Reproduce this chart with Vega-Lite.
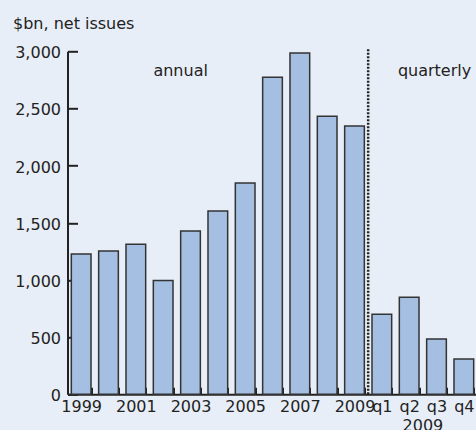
{
  "$schema": "https://vega.github.io/schema/vega-lite/v6.json",
  "width": 410,
  "height": 343,
  "autosize": "none",
  "padding": {"top": 51.3, "left": 67.5, "right": 0, "bottom": 35.7},
  "background": "#e8eef7",
  "config": {
    "view": {"stroke": null},
    "font": "DejaVu Sans",
    "axis": {"labelFont": "DejaVu Sans", "titleFont": "DejaVu Sans", "labelColor": "#222", "titleColor": "#222", "grid": false}
  },
  "datasets": {
    "issues": [
      {"period": "1999", "value": 1227},
      {"period": "2000", "value": 1254},
      {"period": "2001", "value": 1312},
      {"period": "2002", "value": 995},
      {"period": "2003", "value": 1429},
      {"period": "2004", "value": 1604},
      {"period": "2005", "value": 1848},
      {"period": "2006", "value": 2773},
      {"period": "2007", "value": 2986},
      {"period": "2008", "value": 2432},
      {"period": "2009", "value": 2347},
      {"period": "q1", "value": 700},
      {"period": "q2", "value": 849},
      {"period": "q3", "value": 484},
      {"period": "q4", "value": 309}
    ],
    "one": [{}]
  },
  "layer": [
    {
      "data": {"name": "issues"},
      "mark": {"type": "bar", "fill": "#a4bfe2", "stroke": "#333", "strokeWidth": 1.5},
      "encoding": {
        "x": {
          "field": "period", "type": "nominal", "sort": null,
          "scale": {"paddingInner": 0.28, "paddingOuter": 0.14},
          "axis": {
            "title": null,
            "labelAngle": 0,
            "labelFontSize": 16,
            "labelOverlap": false,
            "labelPadding": 11,
            "labelBaseline": "top",
            "labelExpr": "indexof(['1999','2001','2003','2005','2007','2009','q1','q2','q3','q4'], datum.label) >= 0 ? datum.label : ''",
            "tickBand": "extent",
            "tickSize": -7,
            "tickWidth": 2,
            "tickColor": "#222",
            "domainColor": "#222",
            "domainWidth": 2
          }
        },
        "y": {
          "field": "value", "type": "quantitative",
          "scale": {"domain": [0, 3000], "nice": false},
          "axis": {
            "values": [0, 500, 1000, 1500, 2000, 2500, 3000],
            "format": ",d",
            "labelFontSize": 16,
            "labelPadding": 17,
            "labelOffset": 1.5,
            "tickSize": -10,
            "tickWidth": 2,
            "tickColor": "#222",
            "domainColor": "#222",
            "domainWidth": 2,
            "title": "$bn, net issues",
            "titleAngle": 0,
            "titleAlign": "left",
            "titleBaseline": "alphabetic",
            "titleFontSize": 16,
            "titleFontWeight": "normal",
            "titleX": -55,
            "titleY": -23
          }
        }
      }
    },
    {
      "data": {"name": "one"},
      "mark": {"type": "rule", "stroke": "#222", "strokeWidth": 2.5, "strokeDash": [2, 1.5], "clip": false},
      "encoding": {
        "x": {"datum": "2009", "type": "nominal", "bandPosition": 1.194},
        "y": {"datum": 0, "type": "quantitative"},
        "y2": {"datum": 3027}
      }
    },
    {
      "data": {"name": "one"},
      "mark": {"type": "text", "fontSize": 16, "fill": "#222", "align": "center", "baseline": "middle"},
      "encoding": {
        "x": {"datum": "2003", "type": "nominal", "bandPosition": 0},
        "y": {"datum": 2831, "type": "quantitative"},
        "text": {"value": "annual"}
      }
    },
    {
      "data": {"name": "one"},
      "mark": {"type": "text", "fontSize": 16, "fill": "#222", "align": "center", "baseline": "middle"},
      "encoding": {
        "x": {"datum": "q3", "type": "nominal", "bandPosition": 0.4},
        "y": {"datum": 2831, "type": "quantitative"},
        "text": {"value": "quarterly"}
      }
    },
    {
      "data": {"name": "one"},
      "mark": {"type": "text", "fontSize": 16, "fill": "#222", "align": "center", "baseline": "alphabetic", "dy": 37},
      "encoding": {
        "x": {"datum": "q2", "type": "nominal", "bandPosition": 1.2},
        "y": {"datum": 0, "type": "quantitative"},
        "text": {"value": "2009"}
      }
    }
  ]
}
